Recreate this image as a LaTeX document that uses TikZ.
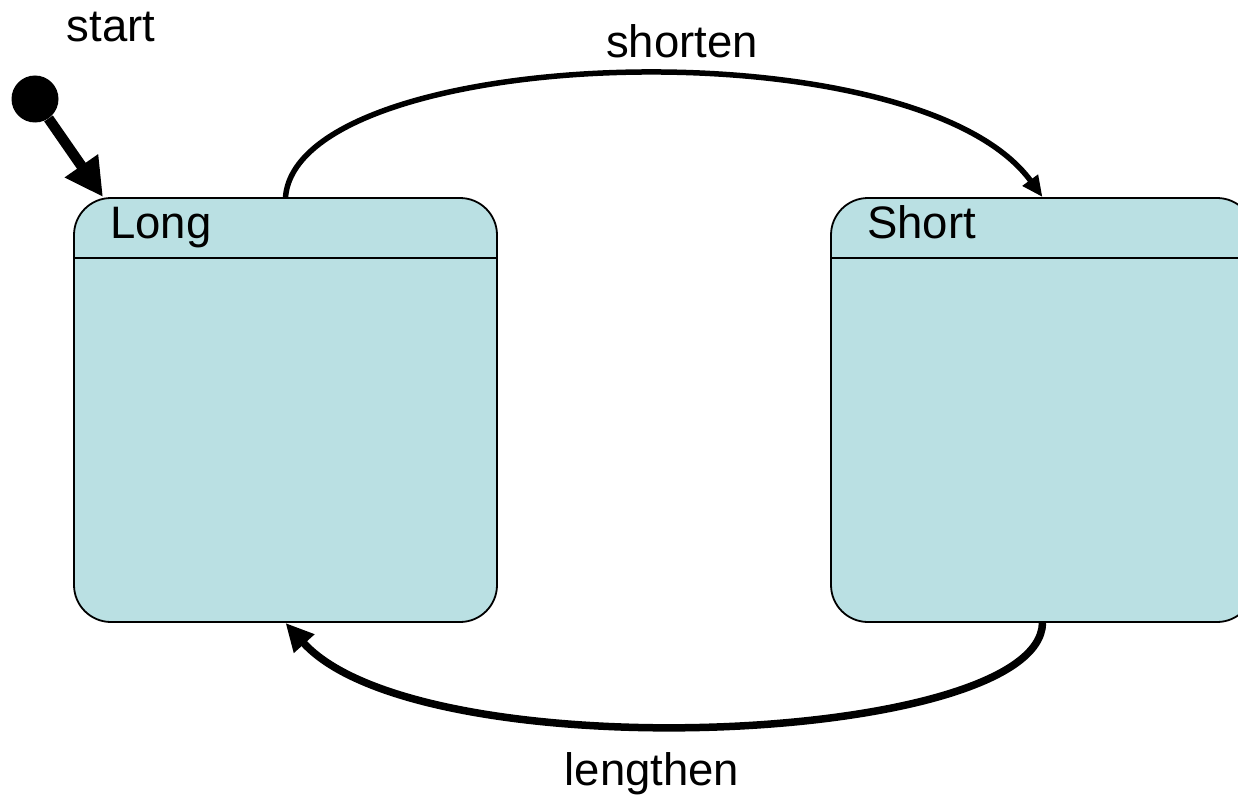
\documentclass[tikz,border=0pt]{standalone}
\usepackage{fontspec}
\setmainfont{Liberation Sans}
\usetikzlibrary{arrows.meta}
\definecolor{statefill}{RGB}{186,224,227}
\tikzset{
  statebox/.style={draw=black, line width=1.8pt, fill=statefill, rounded corners=37pt,
    minimum width=423pt, minimum height=424pt, inner sep=0pt},
  lbl/.style={font=\fontsize{45.5}{54}\selectfont, inner sep=0pt, anchor=base},
  divider/.style={draw=black, line width=1.8pt},
  conn/.style={draw=black},
}
\begin{document}
\begin{tikzpicture}[x=1pt, y=-1pt]
\clip (0,0) rectangle (1238,797);
\fill[white] (0,0) rectangle (1238,797);
\node[statebox] (long) at (285.5,410) {};
\node[statebox] (short) at (1042.5,410) {};
\draw[divider] ([yshift=-61pt]long.north west) -- ([yshift=-61pt]long.north east);
\draw[divider] ([yshift=-61pt]short.north west) -- ([yshift=-61pt]short.north east);
\node[lbl, anchor=base west] (longlbl) at (110,238) {Long};
\node[lbl, anchor=base west] (shortlbl) at (867,238) {Short};
\node[circle, fill=black, minimum size=47pt, inner sep=0pt] (init) at (35,99) {};
\coordinate (entry) at (103,197);
\node[lbl] (startlbl) at (111,42) {start};
\node[lbl] (shortenlbl) at (682,58) {shorten};
\node[lbl] (lengthenlbl) at (652,785) {lengthen};
\draw[conn, line width=10.5pt, -{Triangle[length=38pt,width=38pt]}] (init) -- (entry);
\draw[conn, line width=5.5pt, -{Triangle[length=21pt,width=18pt]}]
  (long.north) .. controls (298,45) and (915,22) .. (short.north);
\draw[conn, line width=7.5pt, -{Triangle[length=28pt,width=26pt]}]
  (short.south) .. controls (1040,745) and (420,772) .. (long.south);
\end{tikzpicture}
\end{document}
